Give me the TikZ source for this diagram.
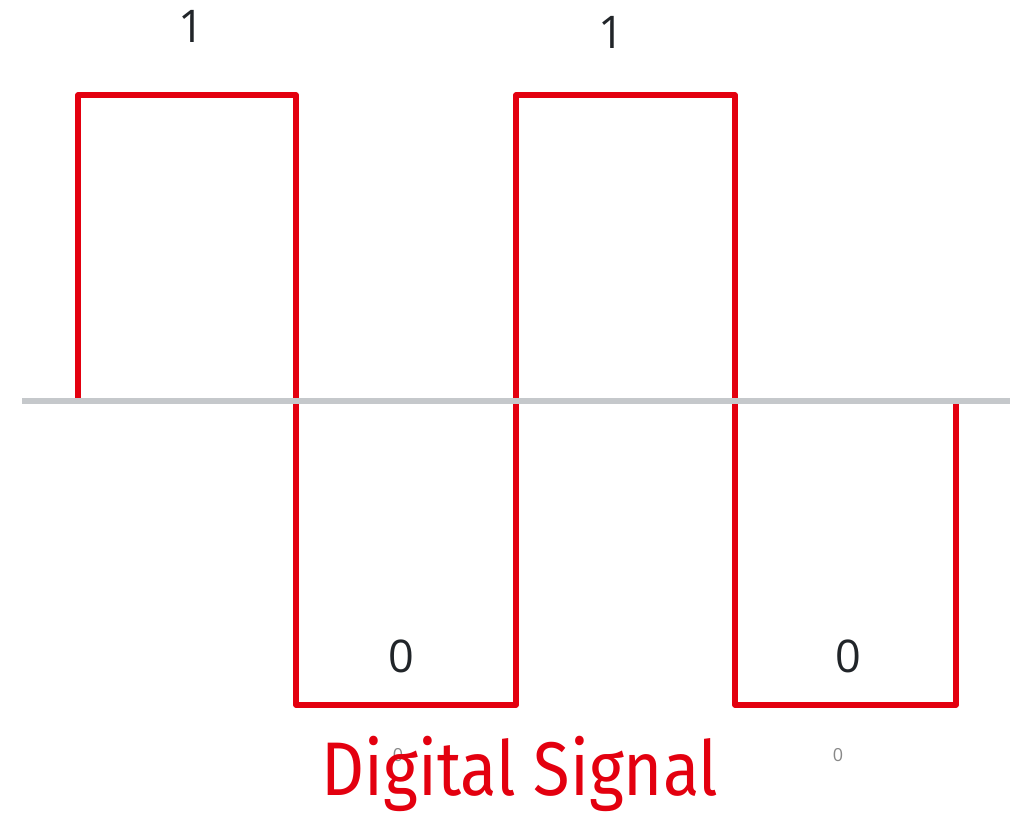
\documentclass[tikz,border=0pt]{standalone}
\usepackage{fontspec}
\setmainfont{Open Sans}
\newfontfamily\titlefont{Fira Sans}
\definecolor{sigred}{RGB}{227,0,15}
\definecolor{axisgray}{RGB}{197,200,203}
\definecolor{labeldark}{RGB}{33,37,41}
\definecolor{tickgray}{RGB}{136,136,136}
\begin{document}
\begin{tikzpicture}[x=1pt,y=-1pt,
  wave/.style={draw=sigred,line width=5.5pt,line join=round},
  axisline/.style={draw=axisgray,line width=5.5pt},
  bitlabel/.style={anchor=base,inner sep=0pt,text=labeldark,font=\fontsize{45}{50}\selectfont},
  ticklabel/.style={anchor=base,inner sep=0pt,text=tickgray,font=\fontsize{18}{20}\selectfont},
  caption/.style={anchor=base,inner sep=0pt,text=sigred,font=\titlefont\fontsize{76}{80}\selectfont}]
\useasboundingbox (0,0) rectangle (1012,812);
% square wave for the bit pattern 1 0 1 0
\coordinate (s0) at (78,398);
\coordinate (s1) at (78,95);
\coordinate (s2) at (296,95);
\coordinate (s3) at (296,705);
\coordinate (s4) at (516,705);
\coordinate (s5) at (516,95);
\coordinate (s6) at (735,95);
\coordinate (s7) at (735,705);
\coordinate (s8) at (956,705);
\coordinate (s9) at (956,403);
\draw[wave] (s0) -- (s1) -- (s2) -- (s3) -- (s4) -- (s5) -- (s6) -- (s7) -- (s8) -- (s9);
% zero level
\coordinate (a0) at (22,401);
\coordinate (a1) at (1010,401);
\draw[axisline] (a0) -- (a1);
% bit values
\node[bitlabel] (b1) at (191,42) {1};
\node[bitlabel] (b2) at (611,48) {1};
\node[bitlabel] (b3) at (401,672) {0};
\node[bitlabel] (b4) at (848,672) {0};
% small axis marks
\node[ticklabel] (t1) at (398,761) {0};
\node[ticklabel] (t2) at (838,761) {0};
% caption, set a little narrow
\node[caption] (title) at (520,795) {\scalebox{0.88}[1]{Digital Signal}};
\end{tikzpicture}
\end{document}
